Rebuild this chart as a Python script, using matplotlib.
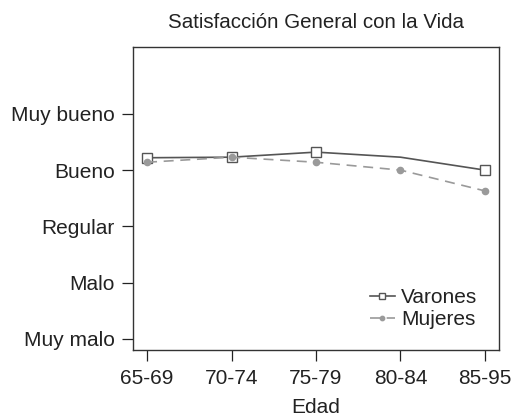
import matplotlib
matplotlib.use("Agg")
import matplotlib.pyplot as plt

categories = ["65-69", "70-74", "75-79", "80-84", "85-95"]
varones = [4.22, 4.23, 4.32, 4.23, 4.00]
mujeres = [4.14, 4.23, 4.14, 4.00, 3.63]
ytick_labels = ["Muy malo", "Malo", "Regular", "Bueno", "Muy bueno"]

plt.rcParams['font.family'] = ['Liberation Sans', 'DejaVu Sans']

fig = plt.figure(figsize=(5.14, 4.17), dpi=100)
ax = fig.add_axes([133/514, 1-350/417, (499-133)/514, (350-47)/417])

x = list(range(len(categories)))
ax.plot(x, varones, color="#555555", lw=1.2, marker="s", ms=6.5,
        mfc="white", mec="#555555", mew=1.0, markevery=[0, 1, 2, 4], label="Varones")
ax.plot(x, mujeres, color="#9a9a9a", lw=1.2, ls=(0, (6, 4)), marker="o", ms=4.5,
        mfc="#9a9a9a", mec="#9a9a9a", label="Mujeres")

fs = 15
ax.set_xlim(-0.166, 4.166)
ax.set_ylim(0.80, 6.19)
ax.set_xticks(x)
ax.set_xticklabels(categories, fontsize=fs)
ax.set_yticks([1, 2, 3, 4, 5])
ax.set_yticklabels(ytick_labels, fontsize=fs)
ax.tick_params(axis='both', length=8, width=0.9, color="#222222", labelcolor="#222222")
ax.tick_params(axis='x', pad=6)
ax.tick_params(axis='y', pad=5)
for s in ax.spines.values():
    s.set_linewidth(1.0)
    s.set_color("#333333")

ax.set_xlabel("Edad", fontsize=fs, color="#222222", labelpad=7)
ax.set_title("Satisfacción General con la Vida", fontsize=14.8, color="#222222", pad=14)

leg = ax.legend(loc="lower right", bbox_to_anchor=(0.98, 0.02), frameon=False,
                fontsize=fs, handlelength=1.2, handletextpad=0.3, labelspacing=0.15,
                borderaxespad=0.3, markerscale=0.7)
for t in leg.get_texts():
    t.set_color("#222222")

fig.savefig("out.png", dpi=100)
